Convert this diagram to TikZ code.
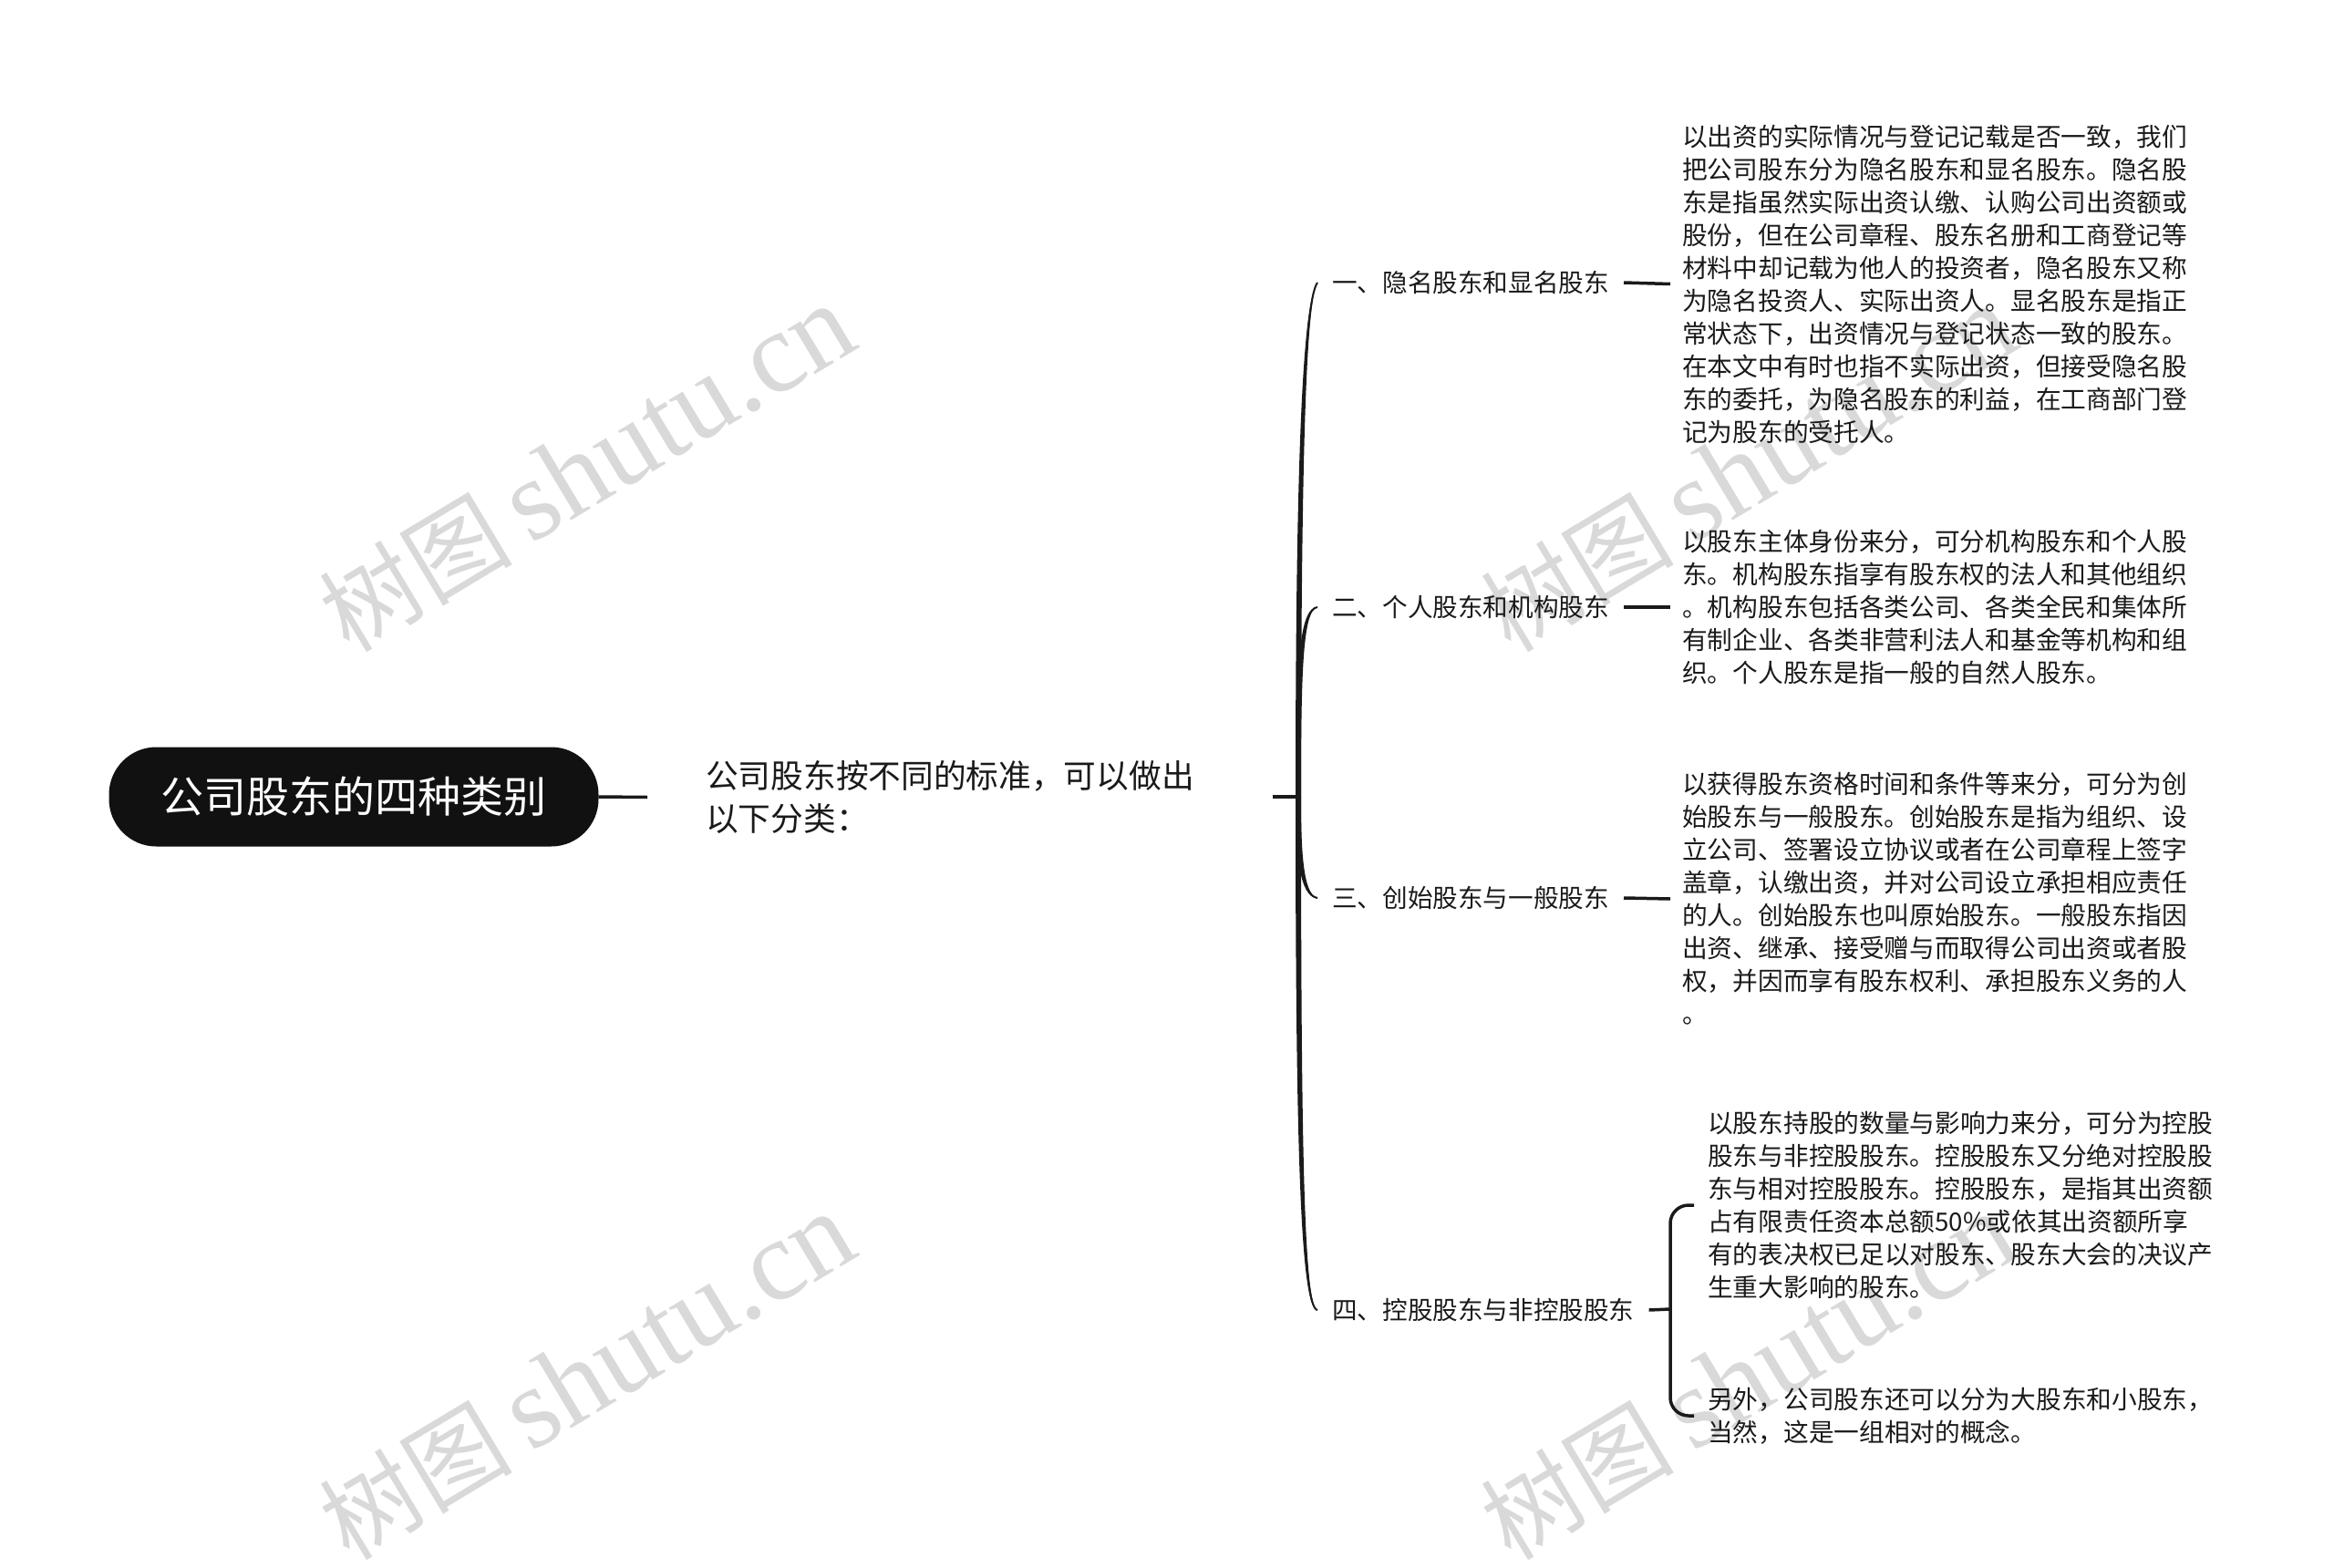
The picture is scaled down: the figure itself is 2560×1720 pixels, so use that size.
\documentclass[tikz,border=0pt]{standalone}
\usepackage{fontspec}
\newfontfamily\cjk{Noto Sans CJK SC}
\newfontfamily\wmlat{Liberation Serif}
\usetikzlibrary{calc}
\definecolor{ink}{RGB}{26,26,26}
\definecolor{rootblack}{RGB}{17,17,17}
\definecolor{wmgray}{RGB}{217,217,217}
\begin{document}
\begin{tikzpicture}[x=1pt,y=-1pt,
  rootbox/.style={fill=rootblack, text=white, rounded corners=52pt, minimum width=537pt, minimum height=109pt, inner sep=0pt, font=\cjk\fontsize{47pt}{56pt}\selectfont},
  midtext/.style={anchor=west, align=left, inner sep=0pt, text=ink, font=\cjk\fontsize{35.7pt}{47pt}\selectfont},
  branchlabel/.style={anchor=west, inner xsep=16pt, inner ysep=0pt, text=ink, font=\cjk\fontsize{27.6pt}{36pt}\selectfont},
  detailtext/.style={anchor=west, align=left, inner xsep=13pt, inner ysep=0pt, text=ink, font=\cjk\fontsize{27.7pt}{36pt}\selectfont},
  detailtextb/.style={detailtext, inner xsep=15pt},
  link/.style={draw=ink, line width=3.5pt},
  wmark/.style={text=wmgray, rotate=31, inner sep=0pt, font=\fontsize{106pt}{116pt}\selectfont}
]
\useasboundingbox (0,0) rectangle (2560,1720);
\fill[white] (0,0) rectangle (2560,1720);

% watermarks
\node[wmark] (wm1) at (644,514) {{\cjk 树图}\hspace{20pt}{\wmlat\fontsize{126pt}{128pt}\selectfont shutu.cn}};
\node[wmark] (wm2) at (644,1510) {{\cjk 树图}\hspace{20pt}{\wmlat\fontsize{126pt}{128pt}\selectfont shutu.cn}};
\node[wmark] (wm3) at (1918,514) {{\cjk 树图}\hspace{20pt}{\wmlat\fontsize{126pt}{128pt}\selectfont shutu.cn}};
\node[wmark] (wm4) at (1918,1510) {{\cjk 树图}\hspace{20pt}{\wmlat\fontsize{126pt}{128pt}\selectfont shutu.cn}};

% root and middle
\node[rootbox] (root) at (388,874) {公司股东的四种类别};
\node[midtext] (mid) at (774,874.5) {公司股东按不同的标准，可以做出\\以下分类：};
\draw[link] (root.east) -- ([xshift=-64pt]mid.west);

\coordinate (hubin) at (1396,874);
\coordinate (hub) at (1424,874);
\draw[link] (hubin) -- (hub);

% branch labels
\node[branchlabel] (b1) at (1445,310) {一、隐名股东和显名股东};
\node[branchlabel] (b2) at (1445,666) {二、个人股东和机构股东};
\node[branchlabel] (b3) at (1445,985) {三、创始股东与一般股东};
\node[branchlabel] (b4) at (1445,1437) {四、控股股东与非控股股东};

% tapered curved connectors
\fill[ink] ($(hub)+(-3,0)$) .. controls (1421,520) and (1428,330) .. (b1.west)
  .. controls (1432,330) and (1427,520) .. ($(hub)+(3,0)$) -- cycle;
\draw[ink, line width=2pt] (hub) .. controls (1424,520) and (1430,330) .. (b1.west);

\fill[ink] ($(hub)+(-3,0)$) .. controls (1421,730) and (1425,666) .. (b2.west)
  .. controls (1429,670) and (1427,735) .. ($(hub)+(3,0)$) -- cycle;
\draw[ink, line width=2pt] (hub) .. controls (1424,732) and (1427,668) .. (b2.west);

\fill[ink] ($(hub)+(-3,0)$) .. controls (1421,935) and (1425,985) .. (b3.west)
  .. controls (1429,981) and (1427,932) .. ($(hub)+(3,0)$) -- cycle;
\draw[ink, line width=2pt] (hub) .. controls (1424,933) and (1427,983) .. (b3.west);

\fill[ink] ($(hub)+(-3,0)$) .. controls (1421,1250) and (1426,1437) .. (b4.west)
  .. controls (1430,1433) and (1427,1250) .. ($(hub)+(3,0)$) -- cycle;
\draw[ink, line width=2pt] (hub) .. controls (1424,1250) and (1428,1435) .. (b4.west);

% detail texts
\node[detailtext] (d1) at (1832,311.5) {以出资的实际情况与登记记载是否一致，我们\\把公司股东分为隐名股东和显名股东。隐名股\\东是指虽然实际出资认缴、认购公司出资额或\\股份，但在公司章程、股东名册和工商登记等\\材料中却记载为他人的投资者，隐名股东又称\\为隐名投资人、实际出资人。显名股东是指正\\常状态下，出资情况与登记状态一致的股东。\\在本文中有时也指不实际出资，但接受隐名股\\东的委托，为隐名股东的利益，在工商部门登\\记为股东的受托人。};
\node[detailtext] (d2) at (1832,666) {以股东主体身份来分，可分机构股东和个人股\\东。机构股东指享有股东权的法人和其他组织\\。机构股东包括各类公司、各类全民和集体所\\有制企业、各类非营利法人和基金等机构和组\\织。个人股东是指一般的自然人股东。};
\node[detailtext] (d3) at (1832,986) {以获得股东资格时间和条件等来分，可分为创\\始股东与一般股东。创始股东是指为组织、设\\立公司、签署设立协议或者在公司章程上签字\\盖章，认缴出资，并对公司设立承担相应责任\\的人。创始股东也叫原始股东。一般股东指因\\出资、继承、接受赠与而取得公司出资或者股\\权，并因而享有股东权利、承担股东义务的人\\。};
\node[detailtextb] (d4a) at (1858,1322) {以股东持股的数量与影响力来分，可分为控股\\股东与非控股股东。控股股东又分绝对控股股\\东与相对控股股东。控股股东，是指其出资额\\占有限责任资本总额50\%或依其出资额所享\\有的表决权已足以对股东、股东大会的决议产\\生重大影响的股东。};
\node[detailtextb] (d4b) at (1858,1553) {另外，公司股东还可以分为大股东和小股东，\\当然，这是一组相对的概念。};

% straight connectors
\draw[link] (b1.east) -- (d1.west);
\draw[link] (b2.east) -- (d2.west);
\draw[link] (b3.east) -- (d3.west);
\coordinate (j4) at (1832,1436);
\draw[link] (b4.east) -- (j4);
\draw[link, rounded corners=20pt] (d4a.west) -- ++(-26,0) |- (d4b.west);
\end{tikzpicture}
\end{document}
